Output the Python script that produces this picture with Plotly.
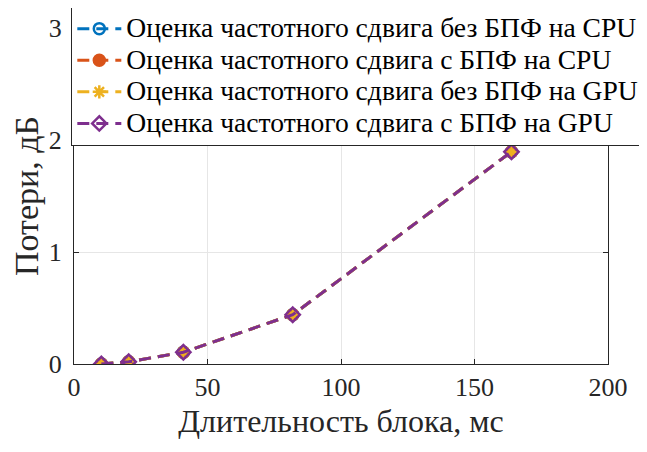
import plotly.graph_objects as go

block_ms = [10.24, 20.48, 40.96, 81.92, 163.84]
loss_cpu_nofft = [0.0, 0.02, 0.105, 0.44, 1.895]
loss_cpu_fft = [0.0, 0.02, 0.105, 0.44, 1.895]
loss_gpu_nofft = [0.0, 0.02, 0.105, 0.44, 1.895]
loss_gpu_fft = [0.0, 0.02, 0.105, 0.44, 1.895]

names = [
    "Оценка частотного сдвига без БПФ на CPU",
    "Оценка частотного сдвига с БПФ на CPU",
    "Оценка частотного сдвига без БПФ на GPU",
    "Оценка частотного сдвига с БПФ на GPU",
]
colors = ["#0072BD", "#D95319", "#EDB120", "#7E2F8E"]
symbols = ["circle-open", "circle", "asterisk-open", "diamond-open"]
series = [loss_cpu_nofft, loss_cpu_fft, loss_gpu_nofft, loss_gpu_fft]

FONT = "Times New Roman, Liberation Serif, serif"

fig = go.Figure()
for name, col, sym, ys in zip(names, colors, symbols, series):
    fig.add_trace(go.Scatter(
        x=block_ms, y=ys, name='<span style="font-size:27.6px">' + name + '</span>',
        mode="lines+markers",
        line=dict(color=col, width=3, dash="12px,7px"),
        marker=dict(symbol=sym, size=11, color=col, line=dict(color=col, width=2.5)),
    ))

axis_common = dict(
    showline=True, linecolor="#262626", linewidth=1, mirror="ticks",
    ticks="inside", ticklen=5, tickcolor="#262626",
    showgrid=True, gridcolor="#E6E6E6", gridwidth=1, zeroline=False,
    automargin=False,
    tickfont=dict(family=FONT, size=26, color="#262626"),
)

fig.update_layout(
    width=639, height=444,
    margin=dict(l=66, r=39, t=20, b=88, autoexpand=False),
    paper_bgcolor="white", plot_bgcolor="white",
    font=dict(family=FONT, color="#262626"),
    xaxis=dict(range=[0, 200], tickvals=[0, 50, 100, 150, 200],
               title=dict(text="Длительность блока, мс", font=dict(family=FONT, size=32), standoff=8),
               **axis_common),
    yaxis=dict(range=[0, 3], tickvals=[0, 1, 2, 3], ticklabelstandoff=6,
               title=dict(text="Потери, дБ", font=dict(family=FONT, size=34), standoff=10),
               **axis_common),
    legend=dict(x=1.068, y=1.063, xanchor="right", yanchor="top",
                bgcolor="white", bordercolor="#262626", borderwidth=1,
                font=dict(family=FONT, size=22, color="black"),
                tracegroupgap=0, itemwidth=44),
    showlegend=True,
)

fig.write_html("out.html")
